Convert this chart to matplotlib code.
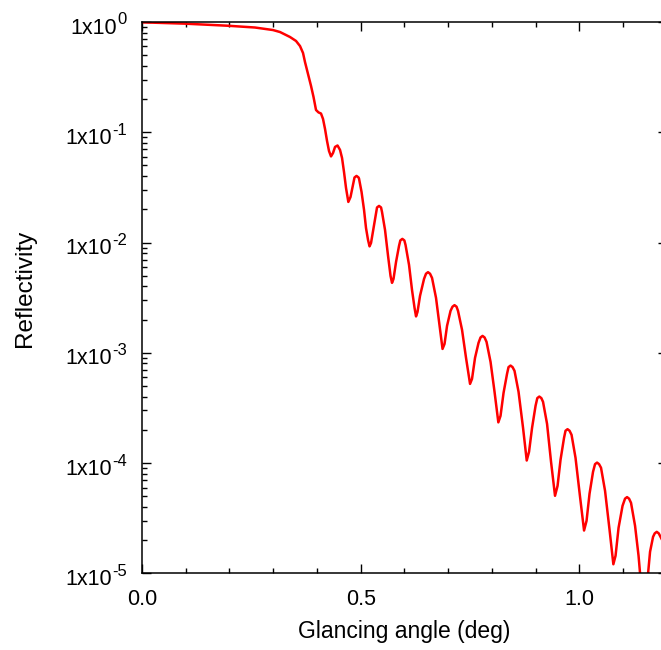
import matplotlib
matplotlib.use('Agg')
import matplotlib.pyplot as plt
from matplotlib.ticker import FixedLocator, LogLocator, MultipleLocator, NullFormatter
import numpy as np

plt.rcParams['font.family'] = ['Liberation Sans', 'DejaVu Sans']

# ---- Data (angle in deg, log10 of reflectivity) ----
angle_deg = [
    0.0000, 0.0983, 0.1967, 0.2584, 0.2996, 0.3156, 0.3384, 0.3522, 0.3613, 0.3682,
    0.3727, 0.3796, 0.3865, 0.3922, 0.3979, 0.4036, 0.4093, 0.4139, 0.4185, 0.4231,
    0.4276, 0.4322, 0.4368, 0.4414, 0.4471, 0.4528, 0.4574, 0.4619, 0.4665, 0.4718,
    0.4768, 0.4825, 0.4859, 0.4905, 0.4951, 0.4962, 0.5020, 0.5077, 0.5122, 0.5168,
    0.5203, 0.5237, 0.5294, 0.5351, 0.5374, 0.5420, 0.5466, 0.5488, 0.5557, 0.5626,
    0.5683, 0.5717, 0.5751, 0.5809, 0.5877, 0.5907, 0.5953, 0.5999, 0.6026, 0.6106,
    0.6174, 0.6232, 0.6266, 0.6300, 0.6357, 0.6449, 0.6494, 0.6540, 0.6586, 0.6632,
    0.6723, 0.6803, 0.6872, 0.6918, 0.6975, 0.7055, 0.7100, 0.7146, 0.7192, 0.7226,
    0.7318, 0.7409, 0.7501, 0.7546, 0.7615, 0.7695, 0.7741, 0.7787, 0.7833, 0.7878,
    0.7970, 0.8061, 0.8148, 0.8198, 0.8267, 0.8347, 0.8381, 0.8427, 0.8473, 0.8518,
    0.8610, 0.8713, 0.8797, 0.8850, 0.8919, 0.8999, 0.9039, 0.9085, 0.9131, 0.9170,
    0.9262, 0.9353, 0.9444, 0.9502, 0.9570, 0.9650, 0.9684, 0.9730, 0.9776, 0.9822,
    0.9913, 1.0016, 1.0108, 1.0165, 1.0233, 1.0313, 1.0359, 1.0405, 1.0451, 1.0496,
    1.0588, 1.0691, 1.0778, 1.0828, 1.0897, 1.0988, 1.1045, 1.1091, 1.1137, 1.1182,
    1.1274, 1.1354, 1.1411, 1.1480, 1.1548, 1.1617, 1.1686, 1.1724, 1.1770, 1.1816,
    1.1868, 1.2006,
]
log_refl = [
    -0.003, -0.015, -0.034, -0.050, -0.073, -0.091, -0.136, -0.172, -0.218, -0.281,
    -0.363, -0.471, -0.580, -0.680, -0.798, -0.820, -0.830, -0.879, -0.970, -1.079,
    -1.170, -1.219, -1.188, -1.133, -1.120, -1.160, -1.233, -1.360, -1.505, -1.632,
    -1.587, -1.478, -1.410, -1.396, -1.410, -1.420, -1.541, -1.704, -1.868, -1.976,
    -2.035, -2.004, -1.868, -1.732, -1.682, -1.668, -1.682, -1.723, -1.886, -2.121,
    -2.303, -2.366, -2.330, -2.176, -2.031, -1.981, -1.967, -1.981, -2.022, -2.203,
    -2.430, -2.593, -2.670, -2.629, -2.484, -2.330, -2.283, -2.269, -2.283, -2.321,
    -2.502, -2.747, -2.965, -2.919, -2.756, -2.620, -2.582, -2.568, -2.582, -2.620,
    -2.792, -3.046, -3.282, -3.237, -3.046, -2.910, -2.861, -2.847, -2.861, -2.901,
    -3.083, -3.354, -3.631, -3.572, -3.364, -3.191, -3.130, -3.116, -3.130, -3.164,
    -3.354, -3.681, -3.977, -3.898, -3.681, -3.481, -3.411, -3.397, -3.411, -3.445,
    -3.645, -3.989, -4.297, -4.207, -3.971, -3.772, -3.707, -3.693, -3.707, -3.744,
    -3.953, -4.306, -4.612, -4.524, -4.279, -4.080, -4.010, -3.996, -4.010, -4.043,
    -4.252, -4.606, -4.918, -4.841, -4.587, -4.388, -4.323, -4.309, -4.323, -4.361,
    -4.569, -4.841, -5.104, -5.240, -5.104, -4.805, -4.669, -4.638, -4.624, -4.638,
    -4.678, -4.787,
]

x_major = [0.0, 0.5, 1.0]
x_labels = ['0.0', '0.5', '1.0']
y_exponents = [-5, -4, -3, -2, -1, 0]

fig = plt.figure(figsize=(6.61, 6.5), dpi=100)
# right edge sits just outside the canvas, as in the reference
ax = fig.add_axes([142 / 661, 1 - 573.3 / 650, (666.8 - 142) / 661, (573.3 - 22) / 650])

reflectivity = 10 ** np.array(log_refl)
ax.plot(angle_deg, reflectivity, color='#ff0000', lw=1.8,
        solid_joinstyle='round', solid_capstyle='round')

ax.set_yscale('log')
ax.set_xlim(0, 1.2)
ax.set_ylim(1e-5, 1)

ax.xaxis.set_major_locator(FixedLocator(x_major))
ax.set_xticklabels(x_labels)
ax.xaxis.set_minor_locator(MultipleLocator(0.1))
ax.yaxis.set_major_locator(FixedLocator([10.0 ** e for e in y_exponents]))
ax.yaxis.set_major_formatter(NullFormatter())
ax.yaxis.set_minor_locator(LogLocator(base=10, subs=np.arange(2, 10)))
ax.yaxis.set_minor_formatter(NullFormatter())

for s in ax.spines.values():
    s.set_linewidth(1.1)
    s.set_color('black')

ax.tick_params(which='both', direction='in', top=True, right=True, width=1.0, color='black')
ax.tick_params(which='major', length=6.5)
ax.tick_params(which='minor', length=3.3)
ax.tick_params(axis='y', which='minor', right=False, length=3.6)
ax.tick_params(axis='x', labelsize=15.5, pad=11)

# y tick labels "1x10" with a raised exponent (plain hyphen, as in the reference)
trans = ax.get_yaxis_transform()
renderer = fig.canvas.get_renderer()
for e in y_exponents:
    sup = ax.annotate(str(e), xy=(0, 10.0 ** e), xycoords=trans,
                      xytext=(-11, -1.8), textcoords='offset points',
                      ha='right', va='baseline', fontsize=12, annotation_clip=False)
    w = sup.get_window_extent(renderer).width * 72 / fig.dpi
    ax.annotate('1x10', xy=(0, 10.0 ** e), xycoords=trans,
                xytext=(-11 - w, -8.3), textcoords='offset points',
                ha='right', va='baseline', fontsize=15.5, annotation_clip=False)

ax.set_xlabel('Glancing angle (deg)', fontsize=16.5)
ax.xaxis.set_label_coords(0.5, (573.3 - 620) / 551.3)
ax.set_ylabel('Reflectivity', fontsize=17.5)
ax.yaxis.set_label_coords((36 - 142) / 524.8, (573.3 - 288) / 551.3)

fig.savefig('out.png', dpi=100)
